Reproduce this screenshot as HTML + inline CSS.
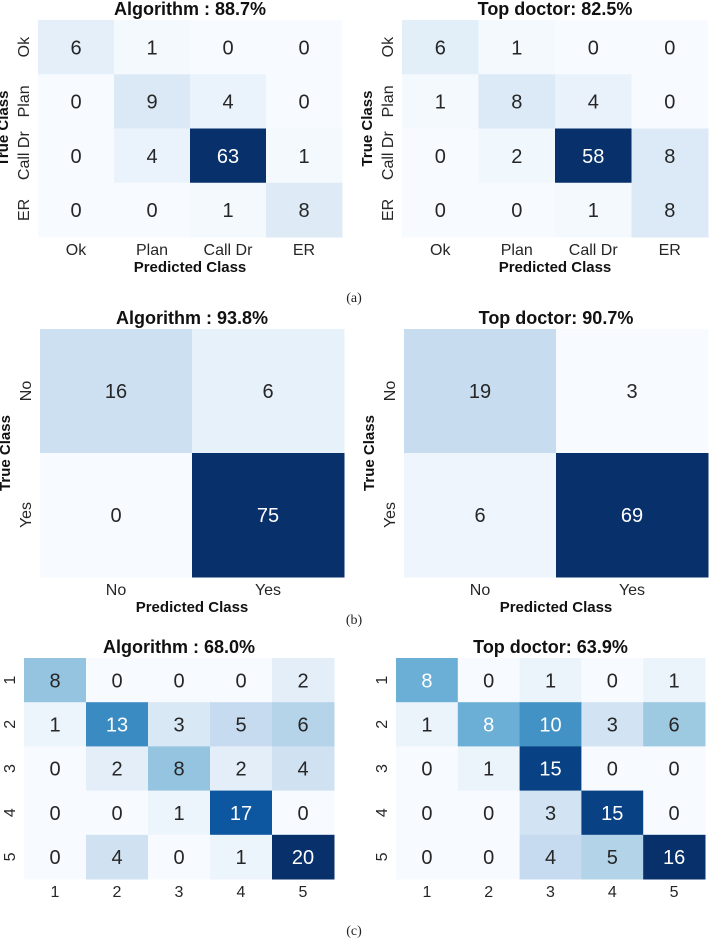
<!DOCTYPE html>
<html><head><meta charset="utf-8">
<style>
html,body{margin:0;padding:0;background:#fff;}
svg{display:block;font-family:"Liberation Sans",Arial,sans-serif;}
</style></head>
<body>
<svg id="fig" width="709" height="941" viewBox="0 0 709 941" xmlns="http://www.w3.org/2000/svg"></svg>
<script>
const labelsA = ["Ok","Plan","Call Dr","ER"];
const algA = [[6,1,0,0],[0,9,4,0],[0,4,63,1],[0,0,1,8]];
const docA = [[6,1,0,0],[1,8,4,0],[0,2,58,8],[0,0,1,8]];
const labelsB = ["No","Yes"];
const algB = [[16,6],[0,75]];
const docB = [[19,3],[6,69]];
const labelsC = ["1","2","3","4","5"];
const algC = [[8,0,0,0,2],[1,13,3,5,6],[0,2,8,2,4],[0,0,1,17,0],[0,4,0,1,20]];
const docC = [[8,0,1,0,1],[1,8,10,3,6],[0,1,15,0,0],[0,0,3,15,0],[0,0,4,5,16]];
const titles = ["Algorithm : 88.7%","Top doctor: 82.5%","Algorithm : 93.8%","Top doctor: 90.7%","Algorithm : 68.0%","Top doctor: 63.9%"];

const NS="http://www.w3.org/2000/svg";
const svg=document.getElementById('fig');
const stops=["#f7fbff","#deebf7","#c6dbef","#9ecae1","#6baed6","#4292c6","#2171b5","#08519c","#08306b"];
function hex(h){return [1,3,5].map(i=>parseInt(h.substr(i,2),16));}
function blues(t){t=Math.max(0,Math.min(1,t));const p=t*8;const i=Math.min(7,Math.floor(p));const f=p-i;
 const a=hex(stops[i]),b=hex(stops[i+1]);return "rgb("+a.map((v,k)=>Math.round(v+(b[k]-v)*f)).join(",")+")";}
function el(tag,attrs,parent){const e=document.createElementNS(NS,tag);for(const k in attrs)e.setAttribute(k,attrs[k]);(parent||svg).appendChild(e);return e;}

function matrix(data,labels,title,x0,y0,x1,y1,opt,name){
 const g=el('g',{});
 
 
 const n=labels.length;
 const cw=(x1-x0)/n, ch=(y1-y0)/n;
 let mx=0,mn=Infinity;data.forEach(r=>r.forEach(v=>{mx=Math.max(mx,v);mn=Math.min(mn,v);}));
 const xs=j=>x0+j*cw, ys=i=>y0+i*ch;
 data.forEach((r,i)=>r.forEach((v,j)=>{
  const t=(v-mn)/(mx-mn);
  const rc=el('rect',{x:xs(j),y:ys(i),width:cw+0.5,height:ch+0.5,fill:blues(t)},g);
  
  
  const tx=el('text',{x:xs(j)+cw/2,y:ys(i)+ch/2+opt.num*0.36,'text-anchor':'middle','font-size':opt.num,fill:t>0.45?'#ffffff':'#262626'},g);
  tx.textContent=v;
  
  
 }));
 const tt=el('text',{x:(x0+x1)/2,y:y0-5,'text-anchor':'middle','font-size':opt.title,'font-weight':'bold',fill:'#111'},g);
 tt.textContent=title;
 
 
 labels.forEach((l,j)=>{
  const t=el('text',{x:xs(j)+cw/2,y:y1+opt.tick+2,'text-anchor':'middle','font-size':opt.tick,fill:'#262626'},g);
  t.textContent=l;
  
  
  const cx=x0-opt.tick*0.55, cy=ys(j)+ch/2;
  const t2=el('text',{x:cx,y:cy,'text-anchor':'middle','font-size':opt.tick,fill:'#262626',transform:'rotate(-90 '+cx+' '+cy+')'},g);
  t2.textContent=l;
  
  
 });
 if(opt.axes){
  const xl=el('text',{x:(x0+x1)/2,y:y1+opt.tick+19,'text-anchor':'middle','font-size':15,'font-weight':'bold',fill:'#111'},g);
  xl.textContent='Predicted Class';
  
  
  const cx=x0-opt.tick-14, cy=(y0+y1)/2;
  const yl=el('text',{x:cx,y:cy,'text-anchor':'middle','font-size':15,'font-weight':'bold',fill:'#111',transform:'rotate(-90 '+cx+' '+cy+')'},g);
  yl.textContent='True Class';
  
  
 }
}
const o1={num:20,tick:16,title:18,axes:true};
matrix(algA,labelsA,titles[0],38,20,342,237,o1,'matrix-a-algorithm');
matrix(docA,labelsA,titles[1],402,20,708,237,o1,'matrix-a-top-doctor');
matrix(algB,labelsB,titles[2],40,329,344,577,o1,'matrix-b-algorithm');
matrix(docB,labelsB,titles[3],404,329,708,577,o1,'matrix-b-top-doctor');
const o3={num:20,tick:16,title:18,axes:false};
matrix(algC,labelsC,titles[4],24,658,334,879,o3,'matrix-c-algorithm');
matrix(docC,labelsC,titles[5],396,658,705,879,o3,'matrix-c-top-doctor');
[["(a)",302],["(b)",624],["(c)",935]].forEach(([s,y])=>{
 const t=el('text',{x:354,y:y,'text-anchor':'middle','font-size':14,'font-family':'"Liberation Serif",serif',fill:'#222'});
 t.textContent=s;
 
 
});
</script>
</body></html>
